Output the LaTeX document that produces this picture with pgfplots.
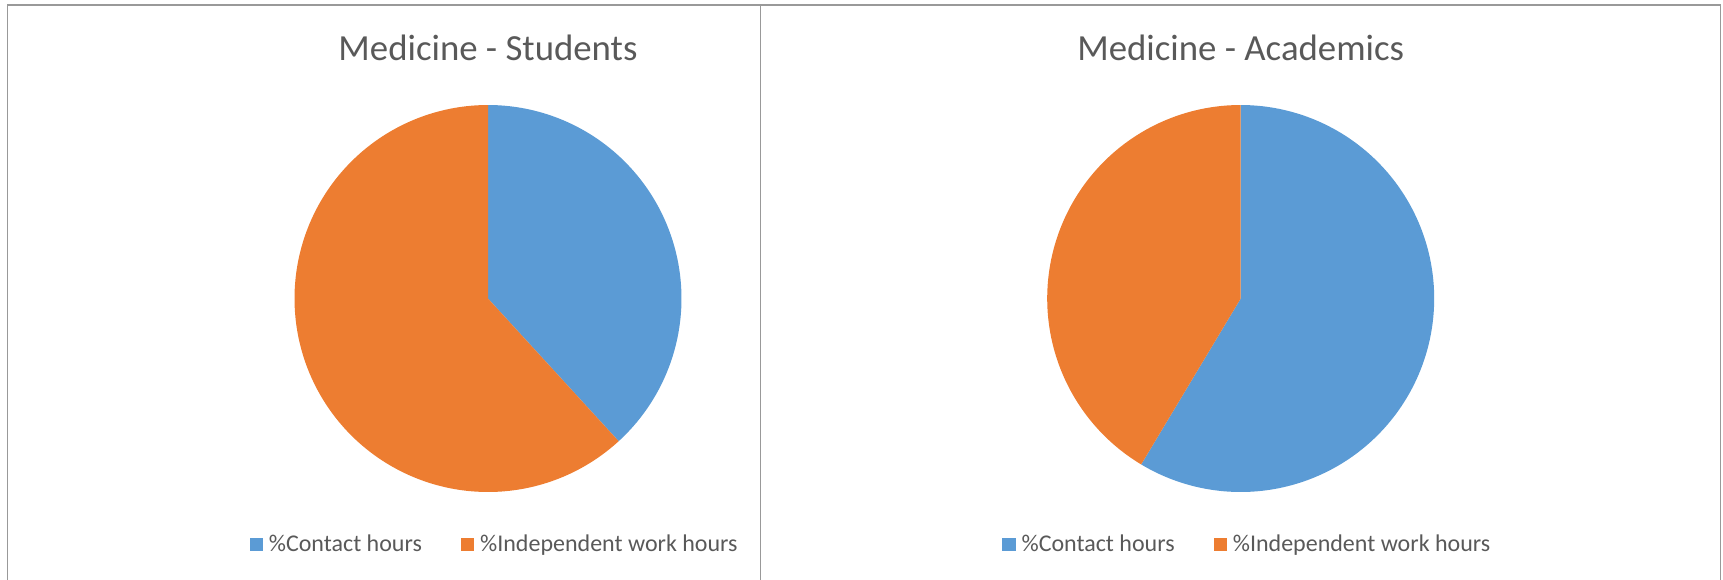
\documentclass[border=0pt]{standalone}
\usepackage{pgfplots}
\pgfplotsset{compat=1.18}
\usepackage{pgfplotstable}
\usepackage{fontspec}
\setmainfont{Carlito}
\definecolor{cblue}{HTML}{5B9BD5}
\definecolor{corange}{HTML}{ED7D31}
\definecolor{ctext}{HTML}{595959}
\definecolor{cframe}{HTML}{999999}

% shares in percent (pie starts at 12 o'clock, clockwise)
\pgfplotstableread{
group contact independent
Students 38.2 61.8
Academics 58.6 41.4
}\piedata

\pgfplotsset{
  pieaxis/.style={
    hide axis, scale only axis, clip=false,
    width=193.5bp, height=193.5bp,
    xmin=-1, xmax=1, ymin=-1, ymax=1,
    anchor=center,
    title style={at={(0.5,1)}, anchor=base, inner sep=0pt, yshift=16.5bp,
      font=\fontsize{18.4bp}{21bp}\selectfont, text=ctext},
    legend columns=2,
    legend cell align=left,
    legend style={at={(-0.1168,-0.1357)}, anchor=west, draw=none, fill=none,
      inner sep=0pt,
      nodes={inner sep=0pt, text=ctext, font=\fontsize{12bp}{14bp}\selectfont},
      /tikz/every odd column/.style={column sep=3bp},
      /tikz/every even column/.style={column sep=19.5bp}},
  },
  slice/.style={draw=none, samples=180, variable=\t, forget plot},
}

\begin{document}
\begin{tikzpicture}
\path[use as bounding box] (0,0) rectangle (861.5bp,-290bp);

% --- Students
\pgfplotstablegetelem{0}{contact}\of\piedata \let\sc\pgfplotsretval
\pgfmathsetmacro\sa{90-3.6*\sc}
\begin{axis}[pieaxis, at={(244bp,-149.25bp)}, title={Medicine - Students}]
  \addplot[slice, fill=cblue, domain=\sa:90] ({cos(t)},{sin(t)}) -- (axis cs:0,0) -- cycle;
  \addplot[slice, fill=corange, domain=-270:\sa] ({cos(t)},{sin(t)}) -- (axis cs:0,0) -- cycle;
  \addlegendimage{legend image code/.code={\fill[cblue] (0bp,-3.1bp) rectangle (6.2bp,3.1bp);}}
  \addlegendentry{\%Contact hours}
  \addlegendimage{legend image code/.code={\fill[corange] (0bp,-3.1bp) rectangle (6.2bp,3.1bp);}}
  \addlegendentry{\%Independent work hours}
\end{axis}

% --- Academics
\pgfplotstablegetelem{1}{contact}\of\piedata \let\ac\pgfplotsretval
\pgfmathsetmacro\aa{90-3.6*\ac}
\begin{axis}[pieaxis, at={(620.35bp,-149.25bp)}, title={Medicine - Academics}]
  \addplot[slice, fill=cblue, domain=\aa:90] ({cos(t)},{sin(t)}) -- (axis cs:0,0) -- cycle;
  \addplot[slice, fill=corange, domain=-270:\aa] ({cos(t)},{sin(t)}) -- (axis cs:0,0) -- cycle;
  \addlegendimage{legend image code/.code={\fill[cblue] (0bp,-3.1bp) rectangle (6.2bp,3.1bp);}}
  \addlegendentry{\%Contact hours}
  \addlegendimage{legend image code/.code={\fill[corange] (0bp,-3.1bp) rectangle (6.2bp,3.1bp);}}
  \addlegendentry{\%Independent work hours}
\end{axis}

% panel frames
\draw[cframe, line width=0.7bp] (3.7bp,-292bp) -- (3.7bp,-2.4bp) -- (860.25bp,-2.4bp) -- (860.25bp,-292bp);
\draw[cframe, line width=0.7bp] (380.35bp,-2.4bp) -- (380.35bp,-292bp);
\end{tikzpicture}
\end{document}
